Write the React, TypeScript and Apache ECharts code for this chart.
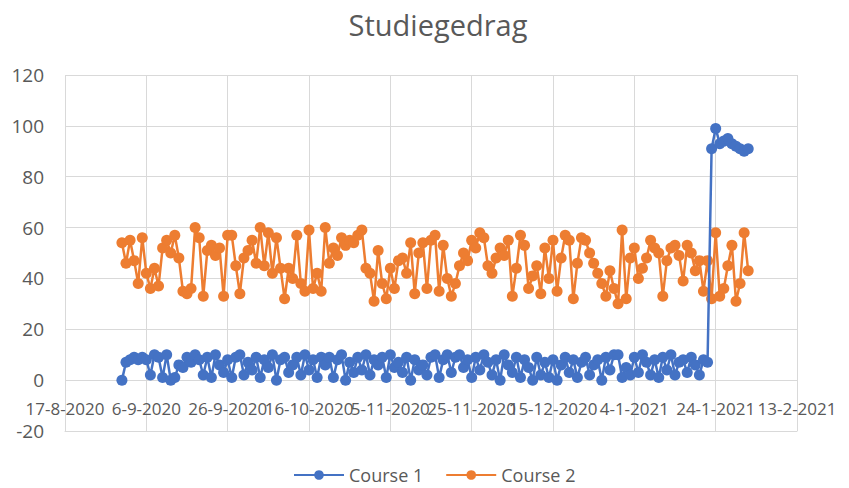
import React, { useEffect, useRef } from "react";
import * as echarts from "echarts";

const titleText = "Studiegedrag";
const axisOrigin = "2020-08-17"; // x-axis minimum date
const firstDataDate = "2020-08-31"; // first daily observation
const xMaxDays = 180;
const xIntervalDays = 20;
const yMin = -20;
const yMax = 120;
const yInterval = 20;
const seriesNames = ["Course 1", "Course 2"];

const course1 = [
  0, 7, 8, 9, 8, 9, 8, 2, 10, 9,
  1, 10, 0, 1, 6, 5, 9, 7, 10, 8,
  2, 9, 1, 10, 6, 3, 8, 1, 9, 10,
  2, 7, 4, 9, 1, 8, 5, 10, 0, 8,
  9, 3, 6, 9, 2, 10, 4, 8, 1, 9,
  6, 9, 1, 8, 10, 0, 7, 3, 9, 4,
  10, 2, 8, 6, 9, 1, 10, 5, 7, 3,
  9, 0, 8, 4, 6, 2, 9, 10, 1, 8,
  10, 3, 9, 10, 5, 8, 1, 9, 4, 10,
  7, 2, 8, 0, 10, 6, 3, 9, 1, 8,
  5, 0, 9, 2, 7, 1, 8, 0, 6, 9,
  3, 8, 1, 7, 9, 2, 6, 8, 0, 9,
  4, 10, 10, 1, 5, 2, 9, 3, 10, 7,
  2, 8, 1, 9, 4, 10, 2, 7, 8, 3,
  9, 6, 2, 8, 7, 91, 99, 93, 94, 95,
  93, 92, 91, 90, 91,
];

const course2 = [
  54, 46, 55, 47, 38, 56, 42, 36, 44, 37,
  52, 55, 50, 57, 48, 35, 34, 36, 60, 56,
  33, 51, 53, 49, 52, 33, 57, 57, 45, 34,
  48, 51, 55, 46, 60, 45, 58, 42, 56, 44,
  32, 44, 40, 57, 38, 35, 59, 36, 42, 35,
  60, 46, 52, 49, 56, 53, 55, 54, 57, 59,
  44, 42, 31, 51, 38, 32, 44, 36, 47, 48,
  42, 54, 34, 50, 54, 36, 55, 57, 35, 53,
  40, 33, 38, 45, 50, 47, 55, 52, 58, 56,
  45, 42, 48, 52, 49, 55, 33, 44, 57, 53,
  36, 41, 45, 34, 52, 40, 55, 35, 48, 57,
  55, 32, 46, 56, 55, 50, 46, 42, 38, 33,
  43, 36, 30, 59, 32, 48, 52, 40, 44, 48,
  55, 52, 50, 33, 47, 52, 53, 49, 39, 53,
  50, 43, 47, 35, 47, 32, 58, 33, 36, 45,
  53, 31, 38, 58, 43,
];

const DAY = 86400000;
const originMs = Date.parse(axisOrigin + "T00:00:00Z");
const firstOffset = Math.round((Date.parse(firstDataDate + "T00:00:00Z") - originMs) / DAY);

function fmtDay(v: number): string {
  const d = new Date(originMs + v * DAY);
  return `${d.getUTCDate()}-${d.getUTCMonth() + 1}-${d.getUTCFullYear()}`;
}

const toPoints = (vals: number[]) => vals.map((v, i) => [firstOffset + i, v]);

export default function App() {
  const ref = useRef<HTMLDivElement>(null);
  useEffect(() => {
    if (!ref.current) return;
    const chart = echarts.init(ref.current, undefined, { renderer: "svg" });
    const font = "'Open Sans', 'Noto Sans', sans-serif";
    const grey = "#595959";
    const gridColor = "#d9d9d9";
    chart.setOption({
      animation: false,
      backgroundColor: "#ffffff",
      textStyle: { fontFamily: font },
      title: {
        text: titleText,
        left: 433,
        textAlign: "center",
        top: 5,
        textStyle: { fontFamily: font, fontSize: 29, fontWeight: "normal", color: grey },
      },
      legend: {
        left: 288,
        top: 461,
        itemWidth: 50,
        itemHeight: 12,
        itemGap: 22,
        textStyle: { fontFamily: font, fontSize: 18, color: grey },
        data: seriesNames,
      },
      grid: { left: 65, right: 52, top: 75, bottom: 57, containLabel: false },
      xAxis: {
        type: "value",
        min: 0,
        max: xMaxDays,
        interval: xIntervalDays,
        axisLine: { show: true, onZero: false, lineStyle: { color: gridColor, width: 1 } },
        axisTick: { show: false },
        splitLine: { show: true, lineStyle: { color: gridColor, width: 1 } },
        axisLabel: {
          show: true,
          showMinLabel: true,
          showMaxLabel: true,
          hideOverlap: false,
          margin: -31,
          fontFamily: font,
          fontSize: 17,
          color: grey,
          formatter: (v: number) => fmtDay(v),
        },
      },
      yAxis: {
        type: "value",
        min: yMin,
        max: yMax,
        interval: yInterval,
        axisLine: { show: false },
        axisTick: { show: false },
        splitLine: { show: true, lineStyle: { color: gridColor, width: 1 } },
        axisLabel: {
          margin: 21,
          fontFamily: font,
          fontSize: 19,
          color: grey,
          showMinLabel: true,
          showMaxLabel: true,
        },
      },
      series: [
        {
          name: seriesNames[0],
          type: "line",
          data: toPoints(course1),
          symbol: "circle",
          symbolSize: 11,
          lineStyle: { color: "#4472C4", width: 2.5 },
          itemStyle: { color: "#4472C4" },
          z: 3,
        },
        {
          name: seriesNames[1],
          type: "line",
          data: toPoints(course2),
          symbol: "circle",
          symbolSize: 11,
          lineStyle: { color: "#ED7D31", width: 2.5 },
          itemStyle: { color: "#ED7D31" },
          z: 2,
        },
      ],
    });
    return () => chart.dispose();
  }, []);
  return (
    <div
      ref={ref}
      style={{ position: "fixed", left: 0, top: 0, width: 849, height: 488, background: "#fff" }}
    />
  );
}
